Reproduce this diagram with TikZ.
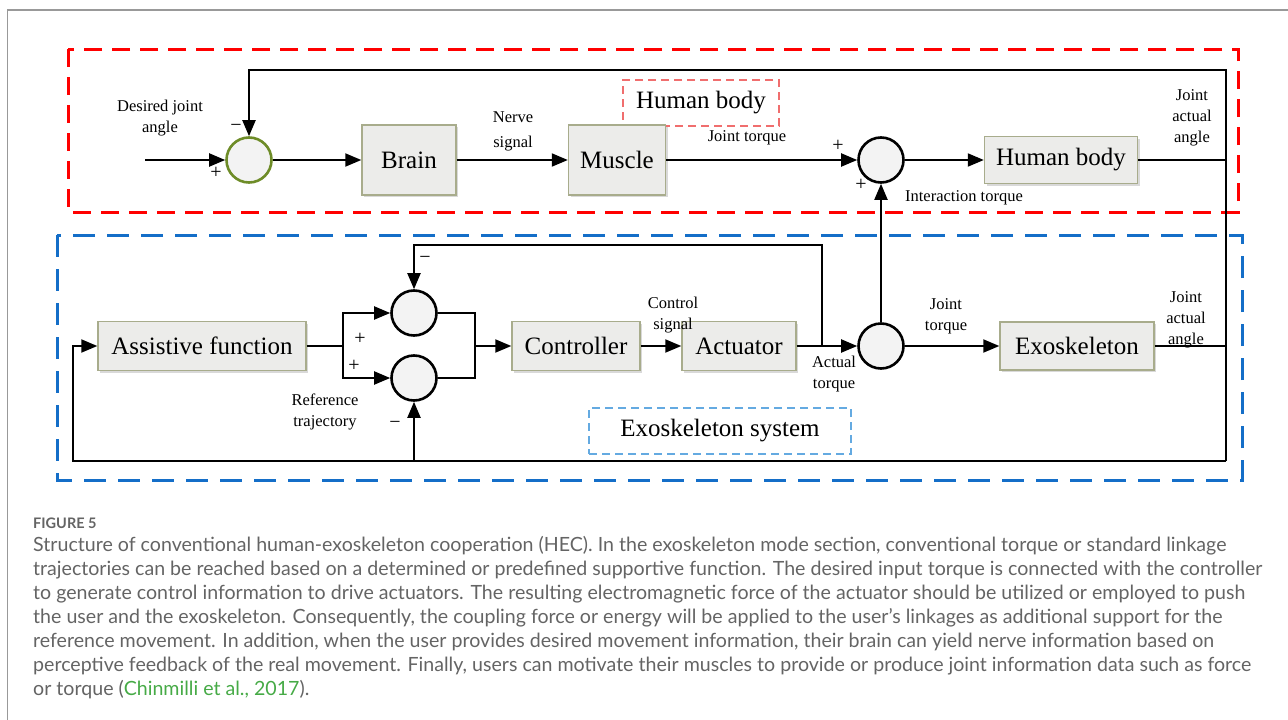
\documentclass[tikz,border=0pt]{standalone}
\usepackage{fontspec}
\setmainfont{Liberation Serif}
\newfontfamily\capfont{Lato}
\usetikzlibrary{arrows.meta}

\definecolor{boxline}{RGB}{168,172,140}
\definecolor{boxfill}{RGB}{236,236,234}
\definecolor{sumfill}{RGB}{243,243,243}
\definecolor{olivering}{RGB}{110,140,40}
\definecolor{bluedash}{RGB}{20,110,200}
\definecolor{lightblue}{RGB}{100,170,225}
\definecolor{lightred}{RGB}{240,110,110}
\definecolor{captext}{RGB}{100,100,100}
\definecolor{citegreen}{RGB}{70,170,70}

\tikzset{
  blk/.style={draw=boxline, line width=1.4pt, fill=boxfill,
    preaction={fill=black, opacity=0.15, transform canvas={xshift=2pt, yshift=-2pt}},
    font=\rmfamily\fontsize{25}{28}\selectfont, inner sep=0pt},
  sumnode/.style={circle, draw=black, line width=2.6pt, fill=sumfill,
    minimum size=45pt, inner sep=0pt},
  wire/.style={line width=2pt, draw=black},
  arr/.style={wire, -{Triangle[length=16pt, width=13pt]}},
  lbl/.style={font=\rmfamily\fontsize{16.5}{21}\selectfont, align=center, inner sep=0pt},
  sgn/.style={font=\rmfamily\fontsize{20}{20}\selectfont, inner sep=0pt},
  tagbox/.style={line width=1.2pt, dash pattern=on 8pt off 5pt,
    font=\rmfamily\fontsize{25}{28}\selectfont, inner sep=0pt},
  capline/.style={anchor=base west, inner sep=0pt, text=captext,
    font=\capfont\fontsize{19.6}{24}\selectfont}
}

\begin{document}
\begin{tikzpicture}[x=1pt, y=-1pt]
\useasboundingbox (0,0) rectangle (1288,720);

% page frame
\draw[gray!80, line width=1.3pt] (7.5,720) -- (7.5,10) -- (1288,10);

% group outlines
\draw[red, line width=3pt, dash pattern=on 18pt off 10pt] (68,49) rectangle (1238,212);
\draw[bluedash, line width=3pt, dash pattern=on 22pt off 12pt] (57,235) rectangle (1242,480);

\node[tagbox, draw=lightred, minimum width=156pt, minimum height=46pt] (tagH) at (701,103) {Human body};
\node[tagbox, draw=lightblue, minimum width=262pt, minimum height=46pt] (tagE) at (720,431) {Exoskeleton system};

% upper loop: human body
\node[sumnode, draw=olivering] (s1) at (249,160) {};
\node[blk, minimum width=94pt, minimum height=70pt] (brain) at (409,160) {Brain};
\node[blk, minimum width=97pt, minimum height=70pt] (muscle) at (617,160) {Muscle};
\node[sumnode] (sj) at (881,160) {};
\node[blk, minimum width=153pt, minimum height=47pt] (hb) at (1061,160) {Human body};

% lower loop: exoskeleton
\node[blk, minimum width=208pt, minimum height=49pt] (af) at (202,346) {Assistive function};
\node[sumnode] (s2) at (414,313) {};
\node[sumnode] (s3) at (414,378) {};
\node[blk, minimum width=128pt, minimum height=49pt] (ctrl) at (576,346) {Controller};
\node[blk, minimum width=114pt, minimum height=49pt] (act) at (739,346) {Actuator};
\node[sumnode] (s4) at (881,346) {};
\node[blk, minimum width=154pt, minimum height=48pt] (exo) at (1077,346) {Exoskeleton};

% junction points
\coordinate (din) at (145,160);
\coordinate (fbTL) at (249,70);
\coordinate (fbTR) at (1226,70);
\coordinate (fbBR) at (1226,461);
\coordinate (fbBL) at (73,461);
\coordinate (sp) at (343,346);
\coordinate (mg) at (475,346);
\coordinate (tk) at (822,346);
\coordinate (tkT) at (822,245);
\coordinate (tkL) at (414,245);

% upper loop wiring
\draw[arr] (din) -- (s1);
\draw[arr] (s1) -- (brain);
\draw[arr] (brain) -- (muscle);
\draw[arr] (muscle) -- (sj);
\draw[arr] (sj) -- (hb);
\draw[wire] (hb.east) -- (hb.east -| fbTR);
\draw[arr] (fbBR) -- (fbTR) -- (fbTL) -- (s1.north);

% lower loop wiring
\draw[arr] (fbBR) -- (fbBL) |- (af.west);
\draw[wire] (af.east) -- (sp);
\draw[arr] (sp) |- (s2.west);
\draw[arr] (sp) |- (s3.west);
\draw[wire] (s2.east) -| (mg);
\draw[wire] (s3.east) -| (mg);
\draw[arr] (mg) -- (ctrl.west);
\draw[arr] (ctrl) -- (act);
\draw[arr] (act) -- (s4);
\draw[arr] (tk) -- (tkT) -- (tkL) -- (s2.north);
\draw[arr] (s3 |- fbBL) -- (s3.south);
\draw[arr] (s4.north) -- (sj.south);
\draw[arr] (s4) -- (exo);
\draw[wire] (exo.east) -- (exo.east -| fbBR);

% signal labels
\node[lbl] (l1) at (160,118) {Desired joint\\angle};
\node[lbl] (l2) at (513,131) {Nerve\\[4pt]signal};
\node[lbl] (l3) at (747,138) {Joint torque};
\node[lbl] (l4) at (964,198) {Interaction torque};
\node[lbl] (l5) at (1192,118) {Joint\\actual\\angle};
\node[lbl] (l6) at (673,315) {Control\\signal};
\node[lbl] (l7) at (834,374) {Actual\\torque};
\node[lbl] (l8) at (946,316) {Joint\\torque};
\node[lbl] (l9) at (1186,320) {Joint\\actual\\angle};
\node[lbl] (l10) at (325,412) {Reference\\trajectory};

% summing signs
\node[sgn] (m1) at (236,128) {−};
\node[sgn] (p1) at (216,173) {+};
\node[sgn] (p2) at (838,146) {+};
\node[sgn] (p3) at (861,185) {+};
\node[sgn] (m2) at (425,260) {−};
\node[sgn] (p4) at (360,339) {+};
\node[sgn] (p5) at (354,366) {+};
\node[sgn] (m3) at (395,425) {−};

% caption
\node[anchor=base west, inner sep=0pt, text=captext, font=\capfont\bfseries\fontsize{14.5}{16}\selectfont] (fig) at (33,528) {FIGURE 5};
\node[capline] (c1) at (33,551) {Structure of conventional human-exoskeleton cooperation (HEC). In the exoskeleton mode section, conventional torque or standard linkage};
\node[capline] (c2) at (33,575) {trajectories can be reached based on a determined or predefined supportive function. The desired input torque is connected with the controller};
\node[capline] (c3) at (33,599) {to generate control information to drive actuators. The resulting electromagnetic force of the actuator should be utilized or employed to push};
\node[capline] (c4) at (33,623) {the user and the exoskeleton. Consequently, the coupling force or energy will be applied to the user’s linkages as additional support for the};
\node[capline] (c5) at (33,647) {reference movement. In addition, when the user provides desired movement information, their brain can yield nerve information based on};
\node[capline] (c6) at (33,671) {perceptive feedback of the real movement. Finally, users can motivate their muscles to provide or produce joint information data such as force};
\node[capline] (c7) at (33,695) {or torque (\textcolor{citegreen}{Chinmilli et al., 2017}).};
\end{tikzpicture}
\end{document}
